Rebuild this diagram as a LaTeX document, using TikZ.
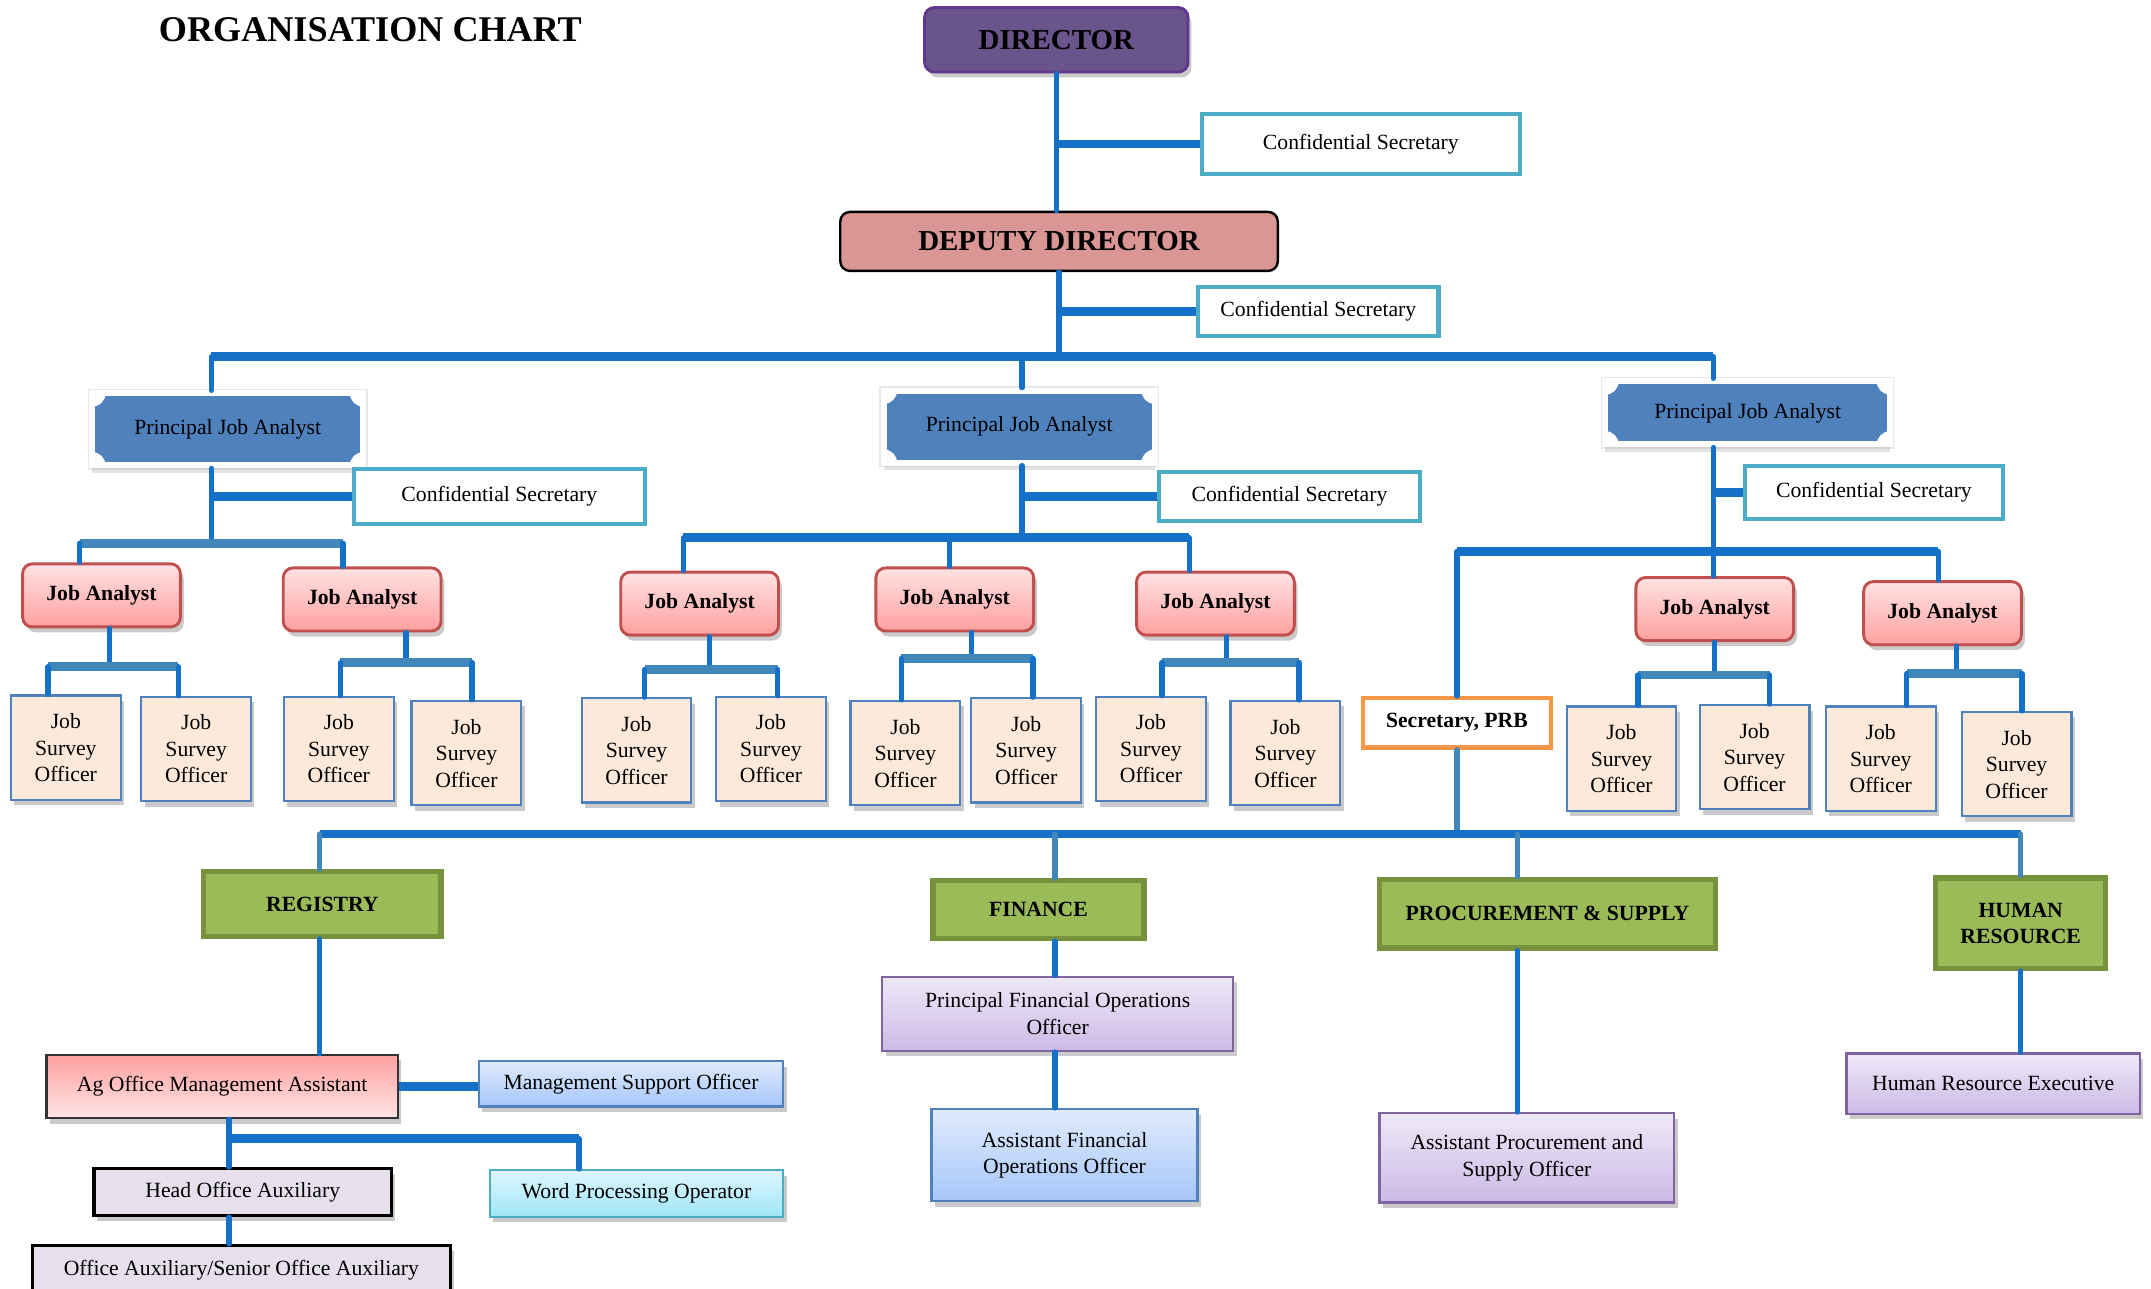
\documentclass[tikz,border=0pt]{standalone}
\usepackage{fontspec}
\setmainfont{Liberation Serif}
\usepackage{xcolor}
\usepackage{tikz}
\usetikzlibrary{shadows}
\definecolor{linkblue}{RGB}{21,112,200}
\definecolor{barsteel}{RGB}{66,135,185}
\definecolor{dirfill}{RGB}{106,84,140}
\definecolor{dirborder}{RGB}{95,55,140}
\definecolor{deputyfill}{RGB}{217,150,148}
\definecolor{secteal}{RGB}{75,172,198}
\definecolor{pjablue}{RGB}{79,129,189}
\definecolor{jatop}{RGB}{255,226,226}
\definecolor{jabottom}{RGB}{255,160,160}
\definecolor{jaborder}{RGB}{192,80,77}
\definecolor{jsofill}{RGB}{253,233,217}
\definecolor{jsoborder}{RGB}{79,129,189}
\definecolor{deptgreen}{RGB}{155,187,89}
\definecolor{deptborder}{RGB}{118,146,60}
\definecolor{prborange}{RGB}{247,150,70}
\definecolor{lavtop}{RGB}{238,232,247}
\definecolor{lavbottom}{RGB}{204,186,230}
\definecolor{lavborder}{RGB}{128,100,162}
\definecolor{skytop}{RGB}{224,235,252}
\definecolor{skybottom}{RGB}{166,198,250}
\definecolor{cyantop}{RGB}{222,246,252}
\definecolor{cyanbottom}{RGB}{160,230,248}
\definecolor{cyanborder}{RGB}{75,172,198}
\definecolor{agtop}{RGB}{255,160,160}
\definecolor{agbottom}{RGB}{255,228,228}
\definecolor{auxfill}{RGB}{229,224,236}
\tikzset{
    link/.style={draw=linkblue, line width=2.2pt, line cap=round},
    linkbar/.style={draw=linkblue, line width=3.6pt},
    steelbar/.style={draw=barsteel, line width=3.6pt},
    steellink/.style={draw=barsteel, line width=2.2pt, line cap=round},
    softshadow/.style={drop shadow={shadow xshift=0.5mm, shadow yshift=-0.8mm, opacity=0.35, fill=black!60}},
    charttitle/.style={font=\fontsize{15}{18}\selectfont\bfseries},
    director/.style={
        rectangle,
        rounded corners=4pt,
        fill=dirfill,
        draw=dirborder,
        line width=1.2pt,
        softshadow,
        font=\fontsize{12}{14}\selectfont\bfseries
    },
    deputy/.style={
        rectangle,
        rounded corners=4pt,
        fill=deputyfill,
        draw=black,
        line width=1pt,
        font=\fontsize{12}{14}\selectfont\bfseries
    },
    secbox/.style={
        rectangle,
        draw=secteal,
        line width=1.8pt,
        fill=white,
        font=\fontsize{9}{11}\selectfont
    },
    pjabox/.style={
        rectangle,
        fill=pjablue,
        draw=white,
        line width=2.5pt,
        preaction={draw=black!9, line width=3.6pt},
        drop shadow={shadow xshift=0mm, shadow yshift=-1.1mm, opacity=0.22, fill=black!50},
        font=\fontsize{9}{11}\selectfont,
        path picture={
            \foreach \corner in {north west,north east,south west,south east}
                \fill[white] (path picture bounding box.\corner) circle (5.5pt);
        }
    },
    jabox/.style={
        rectangle,
        rounded corners=4pt,
        top color=jatop,
        bottom color=jabottom,
        draw=jaborder,
        line width=1.2pt,
        softshadow,
        minimum width=2.3cm,
        minimum height=0.92cm,
        font=\fontsize{9}{11}\selectfont\bfseries
    },
    jsobox/.style={
        rectangle,
        fill=jsofill,
        draw=jsoborder,
        line width=0.9pt,
        softshadow,
        align=center,
        minimum width=1.6cm,
        minimum height=1.52cm,
        font=\fontsize{9}{11}\selectfont
    },
    prbbox/.style={
        rectangle,
        fill=white,
        draw=prborange,
        line width=1.8pt,
        font=\fontsize{9}{11}\selectfont\bfseries
    },
    deptbox/.style={
        rectangle,
        fill=deptgreen,
        draw=deptborder,
        line width=2.2pt,
        align=center,
        font=\fontsize{9}{11}\selectfont\bfseries
    },
    staffbox/.style={
        rectangle,
        line width=1pt,
        align=center,
        softshadow,
        font=\fontsize{9}{11}\selectfont
    },
    lavbox/.style={staffbox, top color=lavtop, bottom color=lavbottom, draw=lavborder},
    skybox/.style={staffbox, top color=skytop, bottom color=skybottom, draw=jsoborder},
    cyanbox/.style={staffbox, top color=cyantop, bottom color=cyanbottom, draw=cyanborder},
    agbox/.style={staffbox, top color=agtop, bottom color=agbottom, draw=black!80},
    auxbox/.style={staffbox, fill=auxfill, draw=black, line width=1.4pt}
}
\begin{document}
\begin{tikzpicture}[x=0.02cm, y=-0.02cm]
\useasboundingbox (0,0) rectangle (1568,939);

\node[charttitle] (chart-title) at (270,22) {ORGANISATION CHART};

% Director and Deputy
\node[director, minimum width=3.84cm, minimum height=0.94cm] (director) at (770,29) {DIRECTOR};
\node[secbox, minimum width=4.64cm, minimum height=0.88cm] (dir-sec) at (992,105) {Confidential Secretary};
\node[deputy, minimum width=6.38cm, minimum height=0.86cm] (deputy) at (772,176) {DEPUTY DIRECTOR};
\node[secbox, minimum width=3.5cm, minimum height=0.72cm] (dep-sec) at (961,227) {Confidential Secretary};

\draw[link] (director.south) -- (director.south |- deputy.north);
\draw[linkbar] (director.south |- dir-sec.west) -- (dir-sec.west);
\coordinate (tb-mid) at (772,260);
\draw[link] (deputy.south) -- (tb-mid);
\draw[linkbar] (deputy.south |- dep-sec.west) -- (dep-sec.west);

% Principal Job Analysts
\node[pjabox, minimum width=3.95cm, minimum height=1.05cm] (pja1) at (166,313) {Principal Job Analyst};
\node[pjabox, minimum width=3.95cm, minimum height=1.05cm] (pja2) at (743,311) {Principal Job Analyst};
\node[pjabox, minimum width=4.15cm, minimum height=0.92cm] (pja3) at (1274,301) {Principal Job Analyst};

\coordinate (tb1) at (154,260);
\coordinate (tb2) at (745,260);
\coordinate (tb3) at (1249,260);
\draw[linkbar] (tb1) -- (tb3);
\draw[link] (tb1) -- (tb1 |- pja1.north);
\draw[link] (tb2) -- (tb2 |- pja2.north);
\draw[link] (tb3) -- (tb3 |- pja3.north);

\node[secbox, minimum width=4.24cm, minimum height=0.8cm] (pja1-sec) at (364,362) {Confidential Secretary};
\node[secbox, minimum width=3.8cm, minimum height=0.72cm] (pja2-sec) at (940,362) {Confidential Secretary};
\node[secbox, minimum width=3.76cm, minimum height=0.78cm] (pja3-sec) at (1366,359) {Confidential Secretary};

\draw[linkbar] (tb1 |- pja1-sec.west) -- (pja1-sec.west);
\draw[linkbar] (tb2 |- pja2-sec.west) -- (pja2-sec.west);
\draw[linkbar] (tb3 |- pja3-sec.west) -- (pja3-sec.west);

% Job Analysts
\node[jabox] (ja1) at (74,434) {Job Analyst};
\node[jabox] (ja2) at (264,437) {Job Analyst};
\node[jabox] (ja3) at (510,440) {Job Analyst};
\node[jabox] (ja4) at (696,437) {Job Analyst};
\node[jabox] (ja5) at (886,440) {Job Analyst};
\node[jabox] (ja6) at (1250,444) {Job Analyst};
\node[jabox] (ja7) at (1416,447) {Job Analyst};

\coordinate (jb1-l) at (58,396);
\coordinate (jb1-m) at (154,396);
\coordinate (jb1-r) at (250,396);
\draw[link] (tb1 |- pja1.south) -- (jb1-m);
\draw[steelbar] (jb1-l) -- (jb1-r);
\draw[link] (jb1-l) -- (jb1-l |- ja1.north);
\draw[link] (jb1-r) -- (jb1-r |- ja2.north);

\coordinate (jb2-l) at (498,392);
\coordinate (jb2-c) at (692,392);
\coordinate (jb2-m) at (745,392);
\coordinate (jb2-r) at (867,392);
\draw[link] (tb2 |- pja2.south) -- (jb2-m);
\draw[linkbar] (jb2-l) -- (jb2-r);
\draw[link] (jb2-l) -- (jb2-l |- ja3.north);
\draw[link] (jb2-c) -- (jb2-c |- ja4.north);
\draw[link] (jb2-r) -- (jb2-r |- ja5.north);

% Secretary PRB
\node[prbbox, minimum width=2.74cm, minimum height=0.72cm] (sec-prb) at (1062,527) {Secretary, PRB};

\coordinate (jb3-l) at (1062,402);
\coordinate (jb3-r) at (1413,402);
\draw[link] (tb3 |- pja3.south) -- (tb3 |- ja6.north);
\draw[linkbar] (jb3-l) -- (jb3-r);
\draw[link] (jb3-l) -- (sec-prb.north);
\draw[link] (jb3-r) -- (jb3-r |- ja7.north);

% Job Survey Officers
\node[jsobox] (jso1) at (48,545) {Job\\Survey\\Officer};
\node[jsobox] (jso2) at (143,546) {Job\\Survey\\Officer};
\node[jsobox] (jso3) at (247,546) {Job\\Survey\\Officer};
\node[jsobox] (jso4) at (340,549) {Job\\Survey\\Officer};
\node[jsobox] (jso5) at (464,547) {Job\\Survey\\Officer};
\node[jsobox] (jso6) at (562,546) {Job\\Survey\\Officer};
\node[jsobox] (jso7) at (660,549) {Job\\Survey\\Officer};
\node[jsobox] (jso8) at (748,547) {Job\\Survey\\Officer};
\node[jsobox] (jso9) at (839,546) {Job\\Survey\\Officer};
\node[jsobox] (jso10) at (937,549) {Job\\Survey\\Officer};
\node[jsobox] (jso11) at (1182,553) {Job\\Survey\\Officer};
\node[jsobox] (jso12) at (1279,552) {Job\\Survey\\Officer};
\node[jsobox] (jso13) at (1371,553) {Job\\Survey\\Officer};
\node[jsobox] (jso14) at (1470,557) {Job\\Survey\\Officer};

\coordinate (sb1-l) at (35,486);   \coordinate (sb1-m) at (80,486);   \coordinate (sb1-r) at (130,486);
\coordinate (sb2-l) at (248,483);  \coordinate (sb2-m) at (296,483);  \coordinate (sb2-r) at (344,483);
\coordinate (sb3-l) at (470,488);  \coordinate (sb3-m) at (517,488);  \coordinate (sb3-r) at (567,488);
\coordinate (sb4-l) at (657,480);  \coordinate (sb4-m) at (708,480);  \coordinate (sb4-r) at (753,480);
\coordinate (sb5-l) at (847,483);  \coordinate (sb5-m) at (894,483);  \coordinate (sb5-r) at (947,483);
\coordinate (sb6-l) at (1194,492); \coordinate (sb6-m) at (1250,492); \coordinate (sb6-r) at (1290,492);
\coordinate (sb7-l) at (1390,491); \coordinate (sb7-m) at (1426,491); \coordinate (sb7-r) at (1474,491);

\draw[link] (sb1-m |- ja1.south) -- (sb1-m);
\draw[steelbar] (sb1-l) -- (sb1-r);
\draw[link] (sb1-l) -- (sb1-l |- jso1.north);
\draw[link] (sb1-r) -- (sb1-r |- jso2.north);

\draw[link] (sb2-m |- ja2.south) -- (sb2-m);
\draw[steelbar] (sb2-l) -- (sb2-r);
\draw[link] (sb2-l) -- (sb2-l |- jso3.north);
\draw[link] (sb2-r) -- (sb2-r |- jso4.north);

\draw[link] (sb3-m |- ja3.south) -- (sb3-m);
\draw[steelbar] (sb3-l) -- (sb3-r);
\draw[link] (sb3-l) -- (sb3-l |- jso5.north);
\draw[link] (sb3-r) -- (sb3-r |- jso6.north);

\draw[link] (sb4-m |- ja4.south) -- (sb4-m);
\draw[steelbar] (sb4-l) -- (sb4-r);
\draw[link] (sb4-l) -- (sb4-l |- jso7.north);
\draw[link] (sb4-r) -- (sb4-r |- jso8.north);

\draw[link] (sb5-m |- ja5.south) -- (sb5-m);
\draw[steelbar] (sb5-l) -- (sb5-r);
\draw[link] (sb5-l) -- (sb5-l |- jso9.north);
\draw[link] (sb5-r) -- (sb5-r |- jso10.north);

\draw[link] (sb6-m |- ja6.south) -- (sb6-m);
\draw[steelbar] (sb6-l) -- (sb6-r);
\draw[link] (sb6-l) -- (sb6-l |- jso11.north);
\draw[link] (sb6-r) -- (sb6-r |- jso12.north);

\draw[link] (sb7-m |- ja7.south) -- (sb7-m);
\draw[steelbar] (sb7-l) -- (sb7-r);
\draw[link] (sb7-l) -- (sb7-l |- jso13.north);
\draw[link] (sb7-r) -- (sb7-r |- jso14.north);

% Departments
\node[deptbox, minimum width=3.46cm, minimum height=0.94cm] (registry) at (235,659) {REGISTRY};
\node[deptbox, minimum width=3.08cm, minimum height=0.84cm] (finance) at (757,663) {FINANCE};
\node[deptbox, minimum width=4.9cm, minimum height=1cm] (procurement) at (1128,666) {PROCUREMENT \& SUPPLY};
\node[deptbox, minimum width=2.48cm, minimum height=1.32cm] (human-res) at (1473,673) {HUMAN\\RESOURCE};

\coordinate (bb-reg) at (233,608);
\coordinate (bb-fin) at (769,608);
\coordinate (bb-prb) at (1062,608);
\coordinate (bb-proc) at (1106,608);
\coordinate (bb-hr) at (1473,608);
\draw[steellink] (sec-prb.south) -- (bb-prb);
\draw[linkbar] (bb-reg) -- (bb-hr);
\draw[steellink] (bb-reg) -- (bb-reg |- registry.north);
\draw[steellink] (bb-fin) -- (bb-fin |- finance.north);
\draw[steellink] (bb-proc) -- (bb-proc |- procurement.north);
\draw[steellink] (bb-hr) -- (bb-hr |- human-res.north);

% Registry staff
\node[agbox, minimum width=5.12cm, minimum height=0.92cm] (ag-oma) at (162,792) {Ag Office Management Assistant};
\node[skybox, minimum width=4.44cm, minimum height=0.66cm] (mso) at (460,790) {Management Support Officer};
\node[auxbox, minimum width=4.34cm, minimum height=0.68cm] (hoa) at (177,869) {Head Office Auxiliary};
\node[cyanbox, minimum width=4.28cm, minimum height=0.68cm] (wpo) at (464,870) {Word Processing Operator};
\node[auxbox, minimum width=6.1cm, minimum height=0.72cm] (office-aux) at (176,926) {Office Auxiliary/Senior Office Auxiliary};

\draw[link] (bb-reg |- registry.south) -- (bb-reg |- ag-oma.north);
\draw[linkbar] (ag-oma.east) -- (ag-oma.east -| mso.west);
\coordinate (rb-l) at (167,830);
\coordinate (rb-r) at (422,830);
\draw[link] (rb-l |- ag-oma.south) -- (rb-l);
\draw[linkbar] (rb-l) -- (rb-r);
\draw[link] (rb-l) -- (rb-l |- hoa.north);
\draw[link] (rb-r) -- (rb-r |- wpo.north);
\draw[link] (rb-l |- hoa.south) -- (rb-l |- office-aux.north);

% Finance staff
\node[lavbox, minimum width=5.12cm, minimum height=1.08cm] (pfoo) at (771,739) {Principal Financial Operations\\Officer};
\node[skybox, minimum width=3.88cm, minimum height=1.34cm] (afoo) at (776,842) {Assistant Financial\\Operations Officer};
\draw[link] (bb-fin |- finance.south) -- (bb-fin |- pfoo.north);
\draw[link] (bb-fin |- pfoo.south) -- (bb-fin |- afoo.north);

% Procurement staff
\node[lavbox, minimum width=4.3cm, minimum height=1.3cm] (apso) at (1113,844) {Assistant Procurement and\\Supply Officer};
\draw[link] (bb-proc |- procurement.south) -- (bb-proc |- apso.north);

% Human resource staff
\node[lavbox, minimum width=4.28cm, minimum height=0.88cm] (hre) at (1453,790) {Human Resource Executive};
\draw[link] (bb-hr |- human-res.south) -- (bb-hr |- hre.north);
\end{tikzpicture}
\end{document}
